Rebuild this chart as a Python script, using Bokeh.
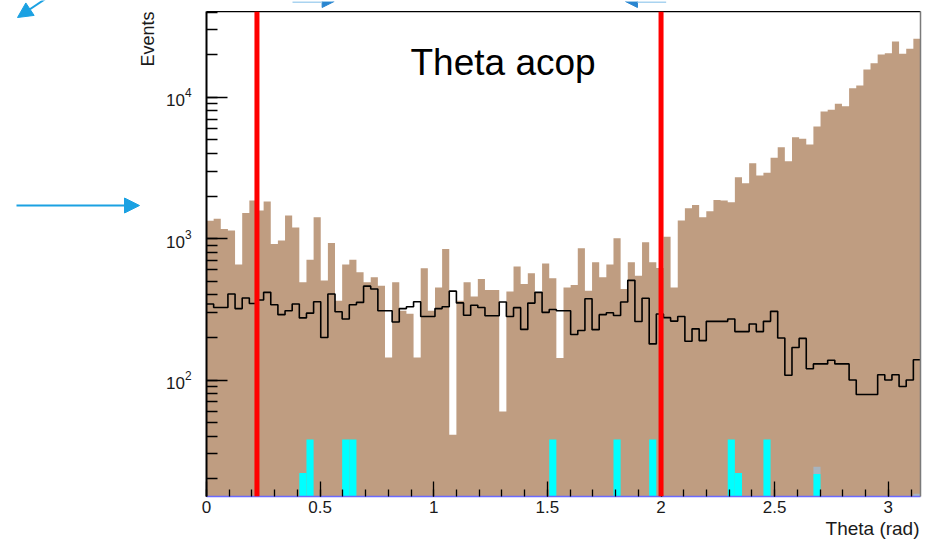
import numpy as np
from bokeh.plotting import figure
from bokeh.layouts import row, column
from bokeh.models import Span, Label, Arrow, NormalHead, FixedTicker, LinearAxis, LogAxis, Title
from bokeh.embed import file_html
from bokeh.resources import INLINE

# ---------------- data ----------------
theta_min, theta_max = 0.0, np.pi
n_bins = 100

# brown filled histogram (events per bin)
brown_counts = [1340, 1380, 1170, 1140, 655, 1520, 1860, 1580, 1830, 918,
                968, 1455, 1200, 491, 710, 1416, 505, 932, 364, 655,
                710, 578, 491, 532, 465, 144, 491, 309, 294, 144,
                616, 309, 452, 845, 41, 364, 491, 389, 519, 433,
                433, 60, 422, 634, 478, 568, 420, 668, 524, 143,
                452, 470, 854, 428, 680, 532, 655, 1005, 440, 680,
                547, 941, 680, 620, 1033, 452, 1341, 1638, 1732, 1415,
                1561, 1879, 1858, 1807, 2716, 2462, 3411, 2792, 2918, 3726,
                4430, 3525, 5212, 5077, 4624, 6203, 7923, 8143, 8981, 8636,
                11580, 12100, 15710, 17400, 20050, 20480, 24770, 20280, 22000, 25900]

# black outline histogram
black_counts = [345, 326, 326, 406, 320, 380, 348, 368, 417, 341,
                290, 309, 345, 275, 297, 358, 200, 406, 304, 270,
                341, 354, 461, 440, 309, 309, 257, 320, 330, 358,
                281, 281, 320, 330, 425, 351, 287, 338, 326, 285,
                285, 356, 281, 325, 228, 350, 417, 301, 315, 309,
                309, 210, 224, 376, 227, 290, 299, 286, 356, 507,
                259, 379, 180, 293, 276, 261, 281, 188, 230, 190,
                260, 260, 260, 270, 220, 220, 249, 220, 260, 306,
                198, 108, 170, 197, 120, 130, 130, 138, 130, 130,
                100, 79, 79, 79, 109, 100, 109, 90, 100, 139]

# small stacked components (bin index, content)
cyan_bins = [13, 14, 19, 20, 48, 57, 62, 73, 74, 78, 85]
cyan_counts = [22, 38, 38, 38, 38, 38, 38, 38, 22, 38, 21.6]
gray_bins = [85, 99]
gray_counts = [2.8, 15.7]

x_tick_values = [0, 0.5, 1, 1.5, 2, 2.5, 3]
x_tick_labels = ["0", "0.5", "1", "1.5", "2", "2.5", "3"]
cut_values = [0.222, 2.0]

title_text = "Theta acop"
x_title = "Theta (rad)"
y_title = "Events"

# ---------------- styling / layout ----------------
FONT = "Liberation Sans"
BROWN = "#bf9d81"
BLUE_ARROW = "#1ba1e2"
W, H = 932, 540
LEFT_W = 160       # decoration strip on the left
TOP_H = 11         # decoration strip on top

edges = np.linspace(theta_min, theta_max, n_bins + 1)
y_floor = 1.0  # below visible range (log axis)

p = figure(width=W - LEFT_W, height=H - TOP_H, x_range=(theta_min, theta_max), y_range=(15.0, 40400),
           y_axis_type="log", output_backend="svg", toolbar_location=None,
           min_border_left=206 - LEFT_W, min_border_right=12, min_border_top=0, min_border_bottom=44,
           background_fill_color="white", border_fill_color="white")
p.outline_line_color = None
p.xgrid.visible = False
p.ygrid.visible = False

# brown filled histogram as a step patch
bc = np.array(brown_counts, dtype=float)
xs = np.concatenate([[edges[0]], np.repeat(edges, 2)[1:-1], [edges[-1]]])
ys = np.concatenate([[y_floor], np.repeat(bc, 2), [y_floor]])
p.patch(xs, ys, fill_color=BROWN, line_color=None)

# cyan stack
cb = np.array(cyan_bins)
p.quad(left=edges[cb], right=edges[cb + 1], bottom=y_floor, top=cyan_counts,
       fill_color="#00ffff", line_color=None)
# gray stacked on top
gb = np.array(gray_bins)
cyan_map = dict(zip(cyan_bins, cyan_counts))
g_bottom = np.array([cyan_map.get(b, y_floor) for b in gray_bins])
g_top = np.array([cyan_map.get(b, 0) for b in gray_bins]) + np.array(gray_counts)
p.quad(left=edges[gb], right=edges[gb + 1], bottom=g_bottom, top=g_top,
       fill_color="#a7b4bf", line_color=None)

# black step histogram
bk = np.array(black_counts, dtype=float)
p.step(edges, np.append(bk, bk[-1]), mode="after", line_color="black", line_width=1.6)

# axes
xa = p.xaxis[0]
xa.ticker = FixedTicker(ticks=x_tick_values, minor_ticks=list(np.round(np.arange(0, 3.15, 0.1), 2)))
xa.major_label_overrides = dict(zip(x_tick_values, x_tick_labels))
xa.major_tick_in = 15
xa.major_tick_out = 0
xa.minor_tick_in = 7
xa.minor_tick_out = 0
xa.major_tick_line_width = 1.3
xa.minor_tick_line_width = 1.3
xa.axis_line_color = "#6a6aff"
xa.axis_line_width = 1.5
xa.major_label_text_font = FONT
xa.major_label_text_font_size = "17px"
xa.major_label_text_color = "#1a1a1a"
xa.major_label_standoff = 4

ya = p.yaxis[0]
ya.major_tick_in = 21
ya.major_tick_out = 0
ya.minor_tick_in = 11
ya.minor_tick_out = 0
ya.major_tick_line_width = 1.5
ya.minor_tick_line_width = 1.3
ya.axis_line_width = 2
ya.axis_line_color = "black"
ya.major_label_text_font = FONT
ya.major_label_text_font_size = "17px"
ya.major_label_text_color = "#1a1a1a"
ya.major_label_standoff = 15

top_axis = LinearAxis(ticker=FixedTicker(ticks=[]), axis_line_color="black", axis_line_width=1.5,
                      major_tick_line_color=None, minor_tick_line_color=None)
p.add_layout(top_axis, "above")
right_axis = LogAxis(ticker=FixedTicker(ticks=[]), axis_line_color="#7a7a7a", axis_line_width=1.5,
                     major_tick_line_color=None, minor_tick_line_color=None)
p.add_layout(right_axis, "right")

# x-axis title, right aligned under the axis
p.add_layout(Title(text=x_title, align="right", vertical_align="bottom", standoff=0, offset=1,
                   text_font=FONT, text_font_size="19px", text_font_style="normal",
                   text_color="#1a1a1a"), "below")

# cut lines
for c in cut_values:
    p.add_layout(Span(location=c, dimension="height", line_color="red", line_width=5))

# title text inside the frame
p.add_layout(Label(x=204, y=455, x_units="screen", y_units="screen", text=title_text,
                   text_font=FONT, text_font_size="37px", text_color="black",
                   text_baseline="top", text_align="left"))

# ---------------- decoration strips (pixel coordinates) ----------------
def strip(w, h, x0, y0):
    f = figure(width=w, height=h, x_range=(x0, x0 + w), y_range=(y0 + h, y0),
               output_backend="svg", toolbar_location=None,
               x_axis_location=None, y_axis_location=None,
               min_border_left=0, min_border_right=0, min_border_top=0, min_border_bottom=0,
               background_fill_color="white", border_fill_color="white")
    f.outline_line_color = None
    f.xgrid.visible = False
    f.ygrid.visible = False
    return f

def arrow(f, x0, y0, x1, y1, color, head_color=None, size=15, width=2):
    hc = head_color or color
    f.add_layout(Arrow(x_start=x0, y_start=y0, x_end=x1, y_end=y1,
                       line_color=color, line_width=width,
                       end=NormalHead(size=size, fill_color=hc, line_color=hc)))

left = strip(LEFT_W, H, 0, 0)
arrow(left, 47, -3, 17, 17, BLUE_ARROW)
arrow(left, 16, 205, 139, 205, BLUE_ARROW)
left.add_layout(Label(x=147, y=11, text=y_title, angle=np.pi / 2,
                      text_font=FONT, text_font_size="18px", text_color="#1a1a1a",
                      text_baseline="middle", text_align="right"))

top = strip(W - LEFT_W, TOP_H, LEFT_W, 0)
arrow(top, 253, 0, 298, 0, "#a9d3f0", head_color="#2a86d0", size=12, width=3)
arrow(top, 657, 0, 613, 0, "#a9d3f0", head_color="#2a86d0", size=12, width=3)

layout = row(left, column(top, p))
open("out.html", "w").write(file_html(layout, INLINE))
